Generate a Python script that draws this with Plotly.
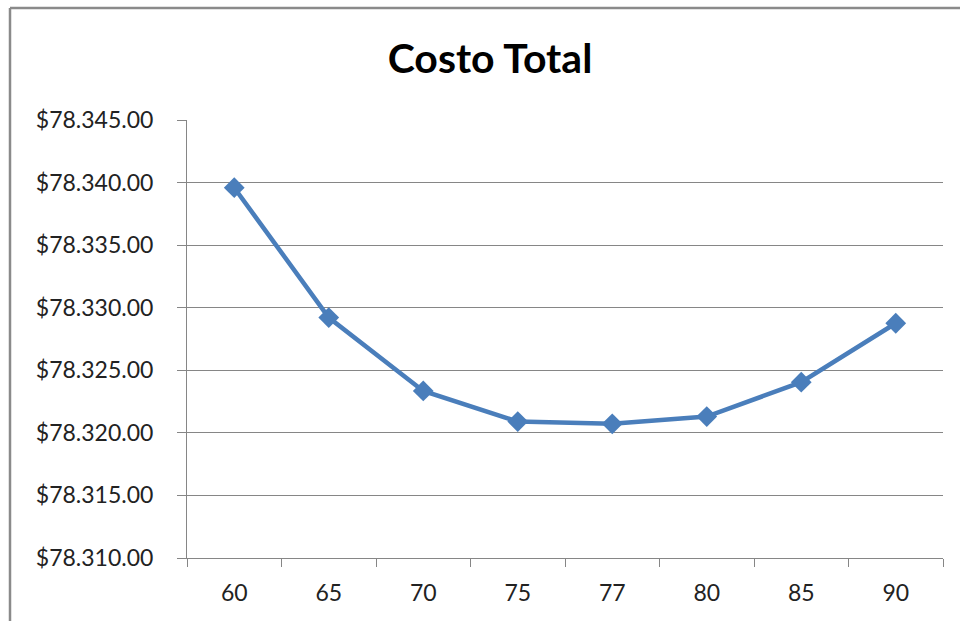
import plotly.graph_objects as go

categories = ["60", "65", "70", "75", "77", "80", "85", "90"]
costo_total = [78339.59, 78329.21, 78323.35, 78320.90, 78320.72, 78321.30, 78324.05, 78328.76]
y_ticks = [78310, 78315, 78320, 78325, 78330, 78335, 78340, 78345]
y_tick_labels = ["$78.310.00", "$78.315.00", "$78.320.00", "$78.325.00",
                 "$78.330.00", "$78.335.00", "$78.340.00", "$78.345.00"]
title_text = "Costo Total"

W, H = 960, 621
ML, MR, MT, MB = 187, 17, 120, 63
pw, ph = W - ML - MR, H - MT - MB

def px_x(x):
    return (x - ML) / pw

def px_y(y):
    return (H - MB - y) / ph

fig = go.Figure()
fig.add_trace(go.Scatter(
    x=categories, y=costo_total, mode="lines+markers",
    line=dict(color="#4A7EBB", width=4.5),
    marker=dict(symbol="diamond", size=16, color="#4A7EBB"),
    showlegend=False, cliponaxis=False,
))

grey = "#868686"
fig.update_layout(
    width=W, height=H,
    margin=dict(l=ML, r=MR, t=MT, b=MB, pad=0),
    paper_bgcolor="white", plot_bgcolor="white",
    font=dict(family="Lato, 'Open Sans', sans-serif", color="#222222"),
    title=dict(text="<b>" + title_text + "</b>", x=490 / W, xanchor="center",
               y=1 - 59 / H, yanchor="middle", yref="container",
               font=dict(size=41, color="black", family="Lato, sans-serif")),
    xaxis=dict(type="category", tickson="boundaries", ticks="outside", ticklen=8,
               tickcolor=grey, showline=True, linecolor=grey, linewidth=1,
               showgrid=False, tickfont=dict(size=23, color="#222222"),
               ticklabelstandoff=14,
               range=[-0.5, len(categories) - 0.5]),
    yaxis=dict(range=[y_ticks[0], y_ticks[-1]], tickvals=y_ticks, ticktext=y_tick_labels,
               ticks="outside", ticklen=9, tickcolor=grey, showline=True, linecolor=grey,
               linewidth=1, showgrid=True, gridcolor=grey, gridwidth=1,
               zeroline=False, tickfont=dict(size=23, color="#222222"), ticklabelstandoff=19),
)

# chart-area border (top and left edges visible)
fig.add_shape(type="line", xref="paper", yref="paper",
              x0=px_x(10), x1=px_x(W + 20), y0=px_y(8), y1=px_y(8),
              line=dict(color="#8A8A8A", width=2.5))
fig.add_shape(type="line", xref="paper", yref="paper",
              x0=px_x(10), x1=px_x(10), y0=px_y(8), y1=px_y(H + 20),
              line=dict(color="#8A8A8A", width=2.5))

fig.write_html("out.html")
